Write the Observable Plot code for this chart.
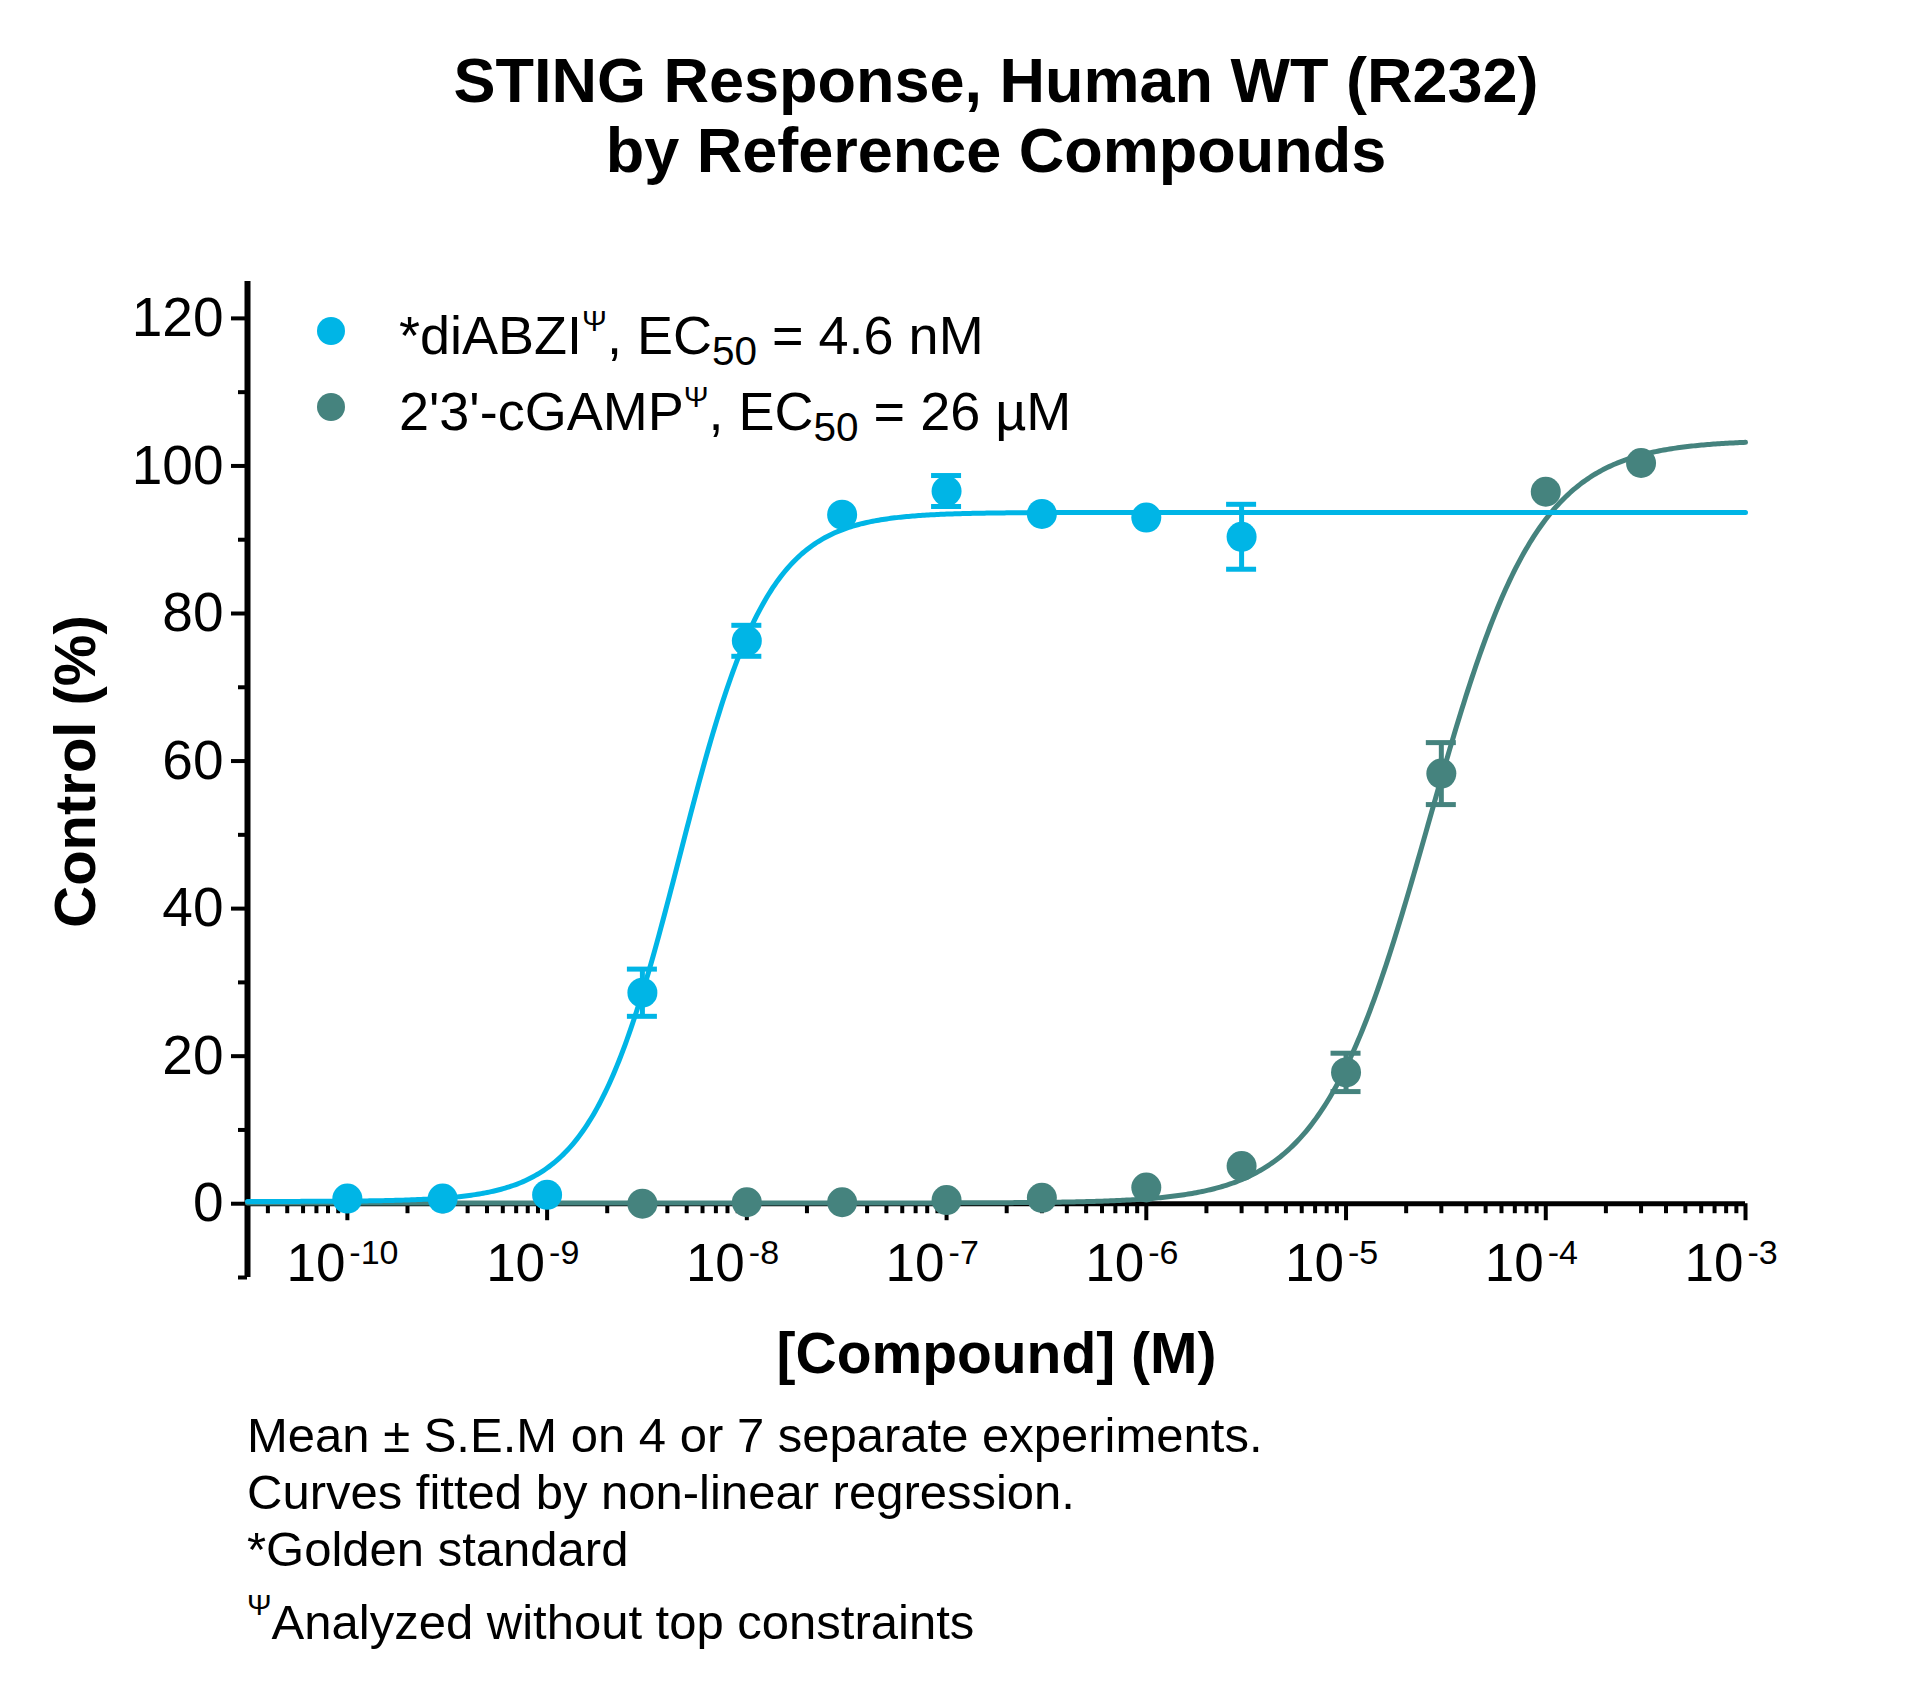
<!DOCTYPE html>
<html>
<head>
<meta charset="utf-8">
<script src="https://cdn.jsdelivr.net/npm/d3@7"></script>
<script src="https://cdn.jsdelivr.net/npm/@observablehq/plot@0.6"></script>
<style>
  body { margin: 0; background: #fff; font-family: "Liberation Sans", Arial, sans-serif; color: #000; }
  #page { position: relative; width: 1925px; height: 1698px; overflow: hidden; background: #fff; }
  #title { position: absolute; left: 247px; width: 1498px; top: 45px; text-align: center;
           font-weight: bold; font-size: 63px; line-height: 70px; }
  #chart { position: absolute; left: 0; top: 200px; }
  .legend-row { position: absolute; left: 399px; height: 74px; line-height: 74px; font-size: 54px; white-space: nowrap; }
  .swatch { position: absolute; left: 317px; width: 28px; height: 28px; border-radius: 50%; }
  .psi { font-size: 0.55em; position: relative; top: -0.78em; line-height: 0; }
  .sub { font-size: 0.75em; position: relative; top: 0.28em; line-height: 0; }
  #caption { position: absolute; left: 247px; top: 1407px; font-size: 49px; line-height: 57px; white-space: nowrap; }
  #caption .last { margin-top: 16px; }
  #caption .psi { top: -0.8em; font-size: 0.6em; }
</style>
</head>
<body>
<div id="page">
  <div id="title">STING Response, Human WT (R232)<br>by Reference Compounds</div>
  <div id="chart"></div>
  <div id="legend"></div>
  <div id="caption">
    <div>Mean ± S.E.M on 4 or 7 separate experiments.</div>
    <div>Curves fitted by non-linear regression.</div>
    <div>*Golden standard</div>
    <div class="last"><span class="psi">Ψ</span>Analyzed without top constraints</div>
  </div>
</div>
<script>
// Compound concentrations (M), mean responses (% of control) and S.E.M.
// A null S.E.M. marks an error bar that is shorter than the symbol.
const diabziConc = [1e-10, 3e-10, 1e-9, 3e-9, 1e-8, 3e-8, 1e-7, 3e-7, 1e-6, 3e-6];
const diabziMean = [0.7, 0.7, 1.2, 28.6, 76.3, 93.4, 96.6, 93.5, 93.0, 90.4];
const diabziSem  = [null, null, null, 3.2, 2.1, null, 2.1, null, null, 4.4];

const cgampConc = [3e-9, 1e-8, 3e-8, 1e-7, 3e-7, 1e-6, 3e-6, 1e-5, 3e-5, 1e-4, 3e-4];
const cgampMean = [0.0, 0.2, 0.2, 0.5, 0.8, 2.2, 5.1, 17.8, 58.3, 96.5, 100.4];
const cgampSem  = [null, null, null, null, null, null, null, 2.6, 4.2, null, null];

// Four-parameter logistic fits (EC50 as reported in the legend).
const diabziFit = { bottom: 0.3, top: 93.7, ec50: 4.6e-9, hill: 1.95 };
const cgampFit  = { bottom: 0.1, top: 103.5, ec50: 26e-6, hill: 1.6 };

const seriesNames  = ["diABZI", "2'3'-cGAMP"];
const seriesColors = ["#00b5e6", "#45837e"];

// Axis ticks
const yMajorTicks = [0, 20, 40, 60, 80, 100, 120];
const yMinorTicks = [-10, 10, 30, 50, 70, 90, 110];
const xMajorExponents = [-10, -9, -8, -7, -6, -5, -4, -3];
const xMin = 10 ** -10.5, xMax = 1e-3;

const xMinorTicks = [];
for (let e = -11; e <= -4; e++) {
  for (let m = 2; m <= 9; m++) {
    const v = m * 10 ** e;
    if (v > xMin && v < xMax) xMinorTicks.push(v);
  }
}

const toRows = (name, conc, mean, sem) =>
  conc.map((c, i) => ({ series: name, c, y: mean[i], sem: sem[i] }));
const points = [
  ...toRows(seriesNames[1], cgampConc, cgampMean, cgampSem),
  ...toRows(seriesNames[0], diabziConc, diabziMean, diabziSem)
];
const errorRows = points.filter(d => d.sem != null);

const logistic = (p, x) => p.bottom + (p.top - p.bottom) / (1 + Math.pow(p.ec50 / x, p.hill));
const curveLogX = d3.range(-10.5, -3 + 1e-9, 0.01);
const curve = (name, p) => curveLogX.map(lx => ({ series: name, c: 10 ** lx, y: logistic(p, 10 ** lx) }));
const diabziCurve = curve(seriesNames[0], diabziFit);
const cgampCurve  = curve(seriesNames[1], cgampFit);

const color = Plot.scale({ color: { domain: seriesNames, range: seriesColors } });

const chart = Plot.plot({
  width: 1925,
  height: 1200,
  marginLeft: 247,
  marginRight: 180,
  marginTop: 81,
  marginBottom: 123,
  style: { fontFamily: '"Liberation Sans", Arial, sans-serif', background: "white", color: "black", overflow: "visible" },
  x: { type: "log", domain: [xMin, xMax], axis: null },
  y: { domain: [-10, 125], axis: null },
  color: { domain: seriesNames, range: seriesColors },
  marks: [
    // y axis
    Plot.ruleX([xMin], { strokeWidth: 6 }),
    Plot.axisY(yMinorTicks, { tickSize: 9, strokeWidth: 4, tickFormat: () => "", label: null }),
    Plot.axisY(yMajorTicks, { tickSize: 16, strokeWidth: 4, tickPadding: 8, fontSize: 55, label: null }),
    // x axis drawn along y = 0
    Plot.ruleY([0], { strokeWidth: 5 }),
    Plot.ruleX(xMinorTicks, { x: d => d, y1: () => 0, y2: () => 0, insetBottom: -10, strokeWidth: 4 }),
    Plot.ruleX(xMajorExponents, { x: e => 10 ** e, y1: () => 0, y2: () => 0, insetBottom: -17, strokeWidth: 4 }),
    Plot.text(xMajorExponents, { x: e => 10 ** e, y: () => 0, text: () => "10", textAnchor: "end", dx: -2, dy: 60, fontSize: 53 }),
    Plot.text(xMajorExponents, { x: e => 10 ** e, y: () => 0, text: e => String(e), textAnchor: "start", dx: 2, dy: 49, fontSize: 34 }),
    // axis titles
    Plot.text(["[Compound] (M)"], { text: d => d, frameAnchor: "bottom", dy: 95, fontSize: 57, fontWeight: "bold" }),
    Plot.text(["Control (%)"], { text: d => d, frameAnchor: "left", textAnchor: "middle", rotate: -90, dx: -171, dy: -8, fontSize: 58, fontWeight: "bold" }),
    // fitted curves
    Plot.line(cgampCurve, { x: "c", y: "y", stroke: "series", strokeWidth: 5 }),
    Plot.line(diabziCurve, { x: "c", y: "y", stroke: "series", strokeWidth: 5 }),
    // error bars
    Plot.ruleX(errorRows, { x: "c", y1: d => d.y - d.sem, y2: d => d.y + d.sem, stroke: "series", strokeWidth: 5 }),
    Plot.ruleY(errorRows, { y: d => d.y + d.sem, x1: "c", x2: "c", insetLeft: -15, insetRight: -15, stroke: "series", strokeWidth: 5 }),
    Plot.ruleY(errorRows, { y: d => d.y - d.sem, x1: "c", x2: "c", insetLeft: -15, insetRight: -15, stroke: "series", strokeWidth: 5 }),
    // data points
    Plot.dot(points, { x: "c", y: "y", r: 15, fill: "series", stroke: "none" })
  ]
});
document.getElementById("chart").appendChild(chart);

// Legend inside the plot area
const legendItems = [
  { name: seriesNames[0], html: '*diABZI<span class="psi">Ψ</span>, EC<span class="sub">50</span> = 4.6 nM', center: 335 },
  { name: seriesNames[1], html: "2'3'-cGAMP<span class=\"psi\">Ψ</span>, EC<span class=\"sub\">50</span> = 26 µM", center: 411 }
];
const legend = document.getElementById("legend");
legendItems.forEach((item) => {
  const sw = document.createElement("div");
  sw.className = "swatch";
  sw.style.top = (item.center - 4 - 14) + "px";
  sw.style.background = color.apply(item.name);
  legend.appendChild(sw);
  const row = document.createElement("div");
  row.className = "legend-row";
  row.style.top = (item.center - 37) + "px";
  row.innerHTML = item.html;
  legend.appendChild(row);
});
</script>
</body>
</html>
